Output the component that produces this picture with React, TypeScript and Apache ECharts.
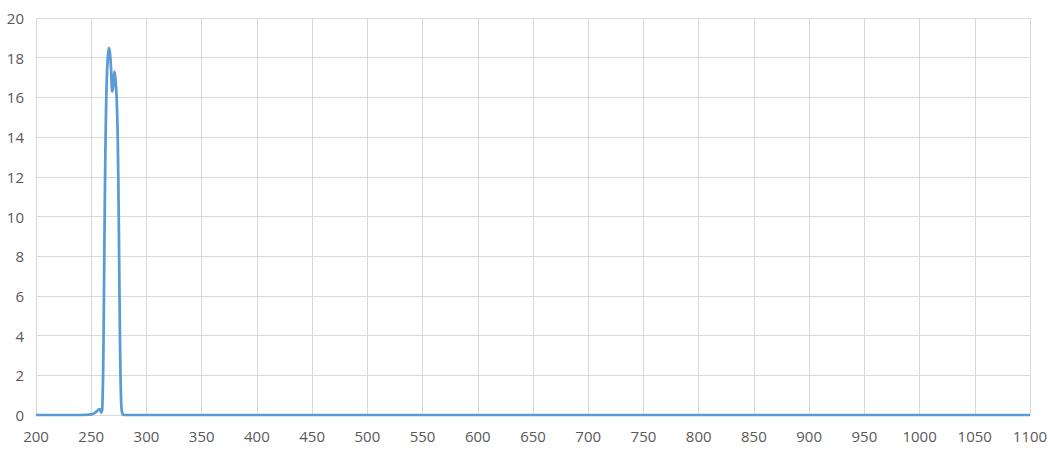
import React, { useEffect, useRef } from "react";
import * as echarts from "echarts";

const wavelengths = [200, 240, 250, 253, 255, 257, 258, 259, 260, 261, 262, 263, 264, 265, 266, 267, 268, 269, 270, 271, 272, 273, 274, 275, 276, 277, 278, 280, 1100];
const values = [0, 0, 0.03, 0.1, 0.18, 0.28, 0.3, 0.12, 0.3, 3, 9, 14, 16.8, 18, 18.5, 18.2, 17.4, 16.3, 16.6, 17.3, 16.9, 16.0, 14, 9.5, 4, 0.8, 0.1, 0, 0];
const xTicks = { min: 200, max: 1100, interval: 50 };
const yTicks = { min: 0, max: 20, interval: 2 };

export default function App() {
  const ref = useRef<HTMLDivElement>(null);
  useEffect(() => {
    if (!ref.current) return;
    const chart = echarts.init(ref.current, null, { renderer: "svg" });
    chart.setOption({
      animation: false,
      backgroundColor: "#ffffff",
      grid: { left: 36, right: 24, top: 18, bottom: 34 },
      xAxis: {
        type: "value",
        min: xTicks.min,
        max: xTicks.max,
        interval: xTicks.interval,
        axisLine: { show: true, lineStyle: { color: "#D9D9D9", width: 1 } },
        axisTick: { show: false },
        axisLabel: { color: "#595959", fontSize: 15, fontFamily: "Open Sans", margin: 13, formatter: (v: number) => String(v) },
        splitLine: { show: true, lineStyle: { color: "#D9D9D9", width: 1 } },
      },
      yAxis: {
        type: "value",
        min: yTicks.min,
        max: yTicks.max,
        interval: yTicks.interval,
        axisLine: { show: false },
        axisTick: { show: false },
        axisLabel: { color: "#595959", fontSize: 15, fontFamily: "Open Sans", margin: 12 },
        splitLine: { show: true, lineStyle: { color: "#D9D9D9", width: 1 } },
      },
      series: [
        {
          type: "line",
          data: wavelengths.map((w, i) => [w, values[i]]),
          showSymbol: false,
          smooth: 0.3,
          lineStyle: { color: "#5B9BD5", width: 2.75 },
        },
      ],
    });
    return () => chart.dispose();
  }, []);
  return <div ref={ref} style={{ position: "fixed", left: 0, top: 0, width: 1054, height: 449 }} />;
}
